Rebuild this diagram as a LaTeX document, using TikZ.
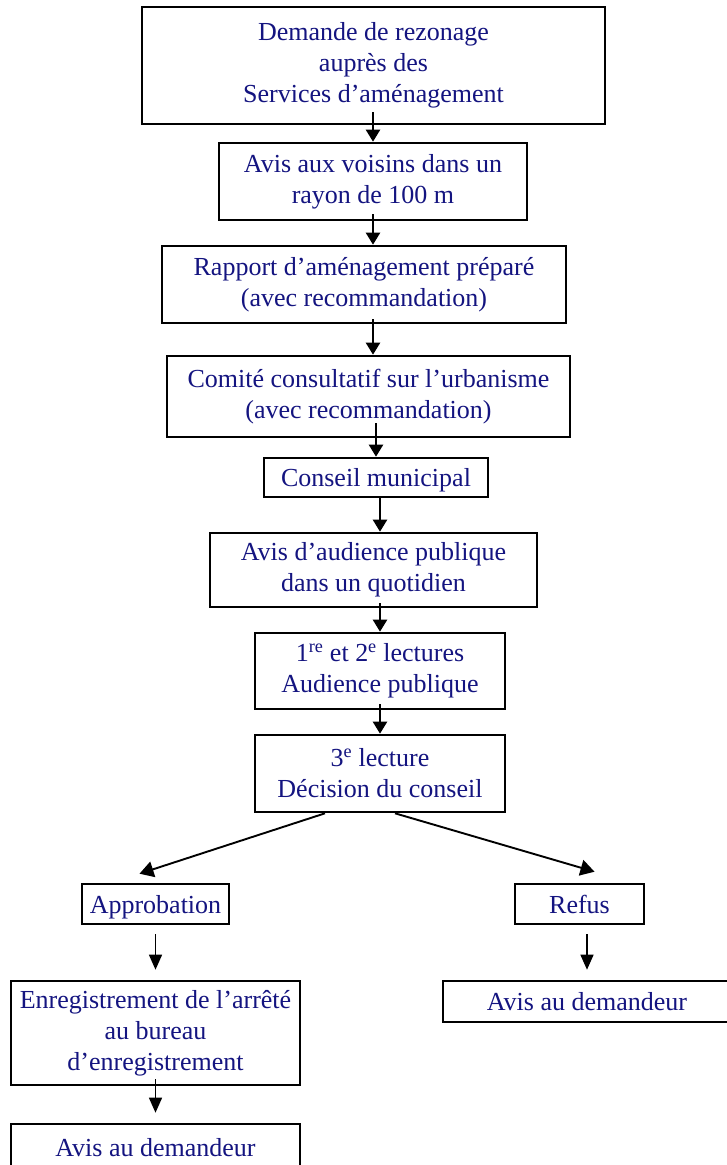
\documentclass[tikz,border=0pt]{standalone}
\usepackage{fontspec}
\setmainfont{Liberation Serif}
\usetikzlibrary{arrows.meta}
\definecolor{txtblue}{RGB}{20,20,128}
\begin{document}
\begin{tikzpicture}[x=1pt,y=-1pt,
  box/.style={draw=black, line width=2.6pt, rectangle, inner sep=0pt, align=center,
    text=txtblue, font=\fontsize{26}{31}\selectfont},
  oneline/.style={text depth=0pt},
  arr/.style={line width=2.2pt, -{Triangle[length=12pt,width=14pt]}},
  brarr/.style={line width=1.9pt, -{Triangle[length=14pt,width=16pt]}},
  thinarr/.style={line width=1.4pt, -{Triangle[length=15pt,width=13pt]}}]
\useasboundingbox (0,0) rectangle (726,1165);
\fill[white] (0,0) rectangle (726,1165);

\node[box, minimum width=463pt, minimum height=117pt] (demande) at (373.5,65.5)
  {Demande de rezonage\\auprès des\\Services d’aménagement};
\node[box, minimum width=308pt, minimum height=77pt] (voisins) at (373,181.5)
  {Avis aux voisins dans un\\rayon de 100 m};
\node[box, minimum width=404pt, minimum height=77pt] (rapport) at (364,284.5)
  {Rapport d’aménagement préparé\\(avec recommandation)};
\node[box, minimum width=403pt, minimum height=81pt] (comite) at (368.5,396.5)
  {Comité consultatif sur l’urbanisme\\(avec recommandation)};
\node[box, oneline, minimum width=224pt, minimum height=39pt] (conseil) at (376,477.5)
  {Conseil municipal};
\node[box, minimum width=327pt, minimum height=74pt] (audience) at (373.5,570)
  {Avis d’audience publique\\dans un quotidien};
\node[box, minimum width=250pt, minimum height=76pt] (lect12) at (380,671)
  {1\textsuperscript{re} et 2\textsuperscript{e} lectures\\Audience publique};
\node[box, minimum width=250pt, minimum height=77pt] (lect3) at (380,773.5)
  {3\textsuperscript{e} lecture\\Décision du conseil};
\node[box, oneline, minimum width=147pt, minimum height=40pt] (appro) at (155.5,904)
  {Approbation};
\node[box, oneline, minimum width=129pt, minimum height=40pt] (refus) at (579.5,904)
  {Refus};
\node[box, minimum width=289pt, minimum height=104pt] (enreg) at (155.5,1033)
  {Enregistrement de l’arrêté\\au bureau\\d’enregistrement};
\node[box, oneline, minimum width=288pt, minimum height=41pt] (avisR) at (587,1001.5)
  {Avis au demandeur};
\node[box, oneline, minimum width=289pt, minimum height=46pt] (avisL) at (155.5,1147)
  {Avis au demandeur};

\draw[arr] ([yshift=13pt]voisins.north |- demande.south) -- (voisins.north);
\draw[arr] ([yshift=7pt]voisins.south) -- (voisins.south |- rapport.north);
\draw[arr] ([yshift=5pt]voisins.south |- rapport.south) -- (voisins.south |- comite.north);
\draw[arr] ([yshift=15pt]conseil.north |- comite.south) -- (conseil.north);
\draw[arr] (lect12.north |- conseil.south) -- (lect12.north |- audience.north);
\draw[arr] ([yshift=5pt]lect12.north |- audience.south) -- (lect12.north);
\draw[arr] ([yshift=6pt]lect12.south) -- (lect3.north);
\draw[brarr] ([xshift=-55pt]lect3.south) -- ([xshift=-16pt,yshift=9pt]appro.north);
\draw[brarr] ([xshift=15pt]lect3.south) -- ([xshift=15pt,yshift=11pt]refus.north);
\draw[thinarr] ([yshift=-9pt]appro.south) -- ([yshift=10pt]enreg.north);
\draw[thinarr] ([yshift=-9pt]refus.south -| avisR.north) -- ([yshift=10pt]avisR.north);
\draw[thinarr] ([yshift=7pt]enreg.south) -- ([yshift=10pt]avisL.north);
\end{tikzpicture}
\end{document}
